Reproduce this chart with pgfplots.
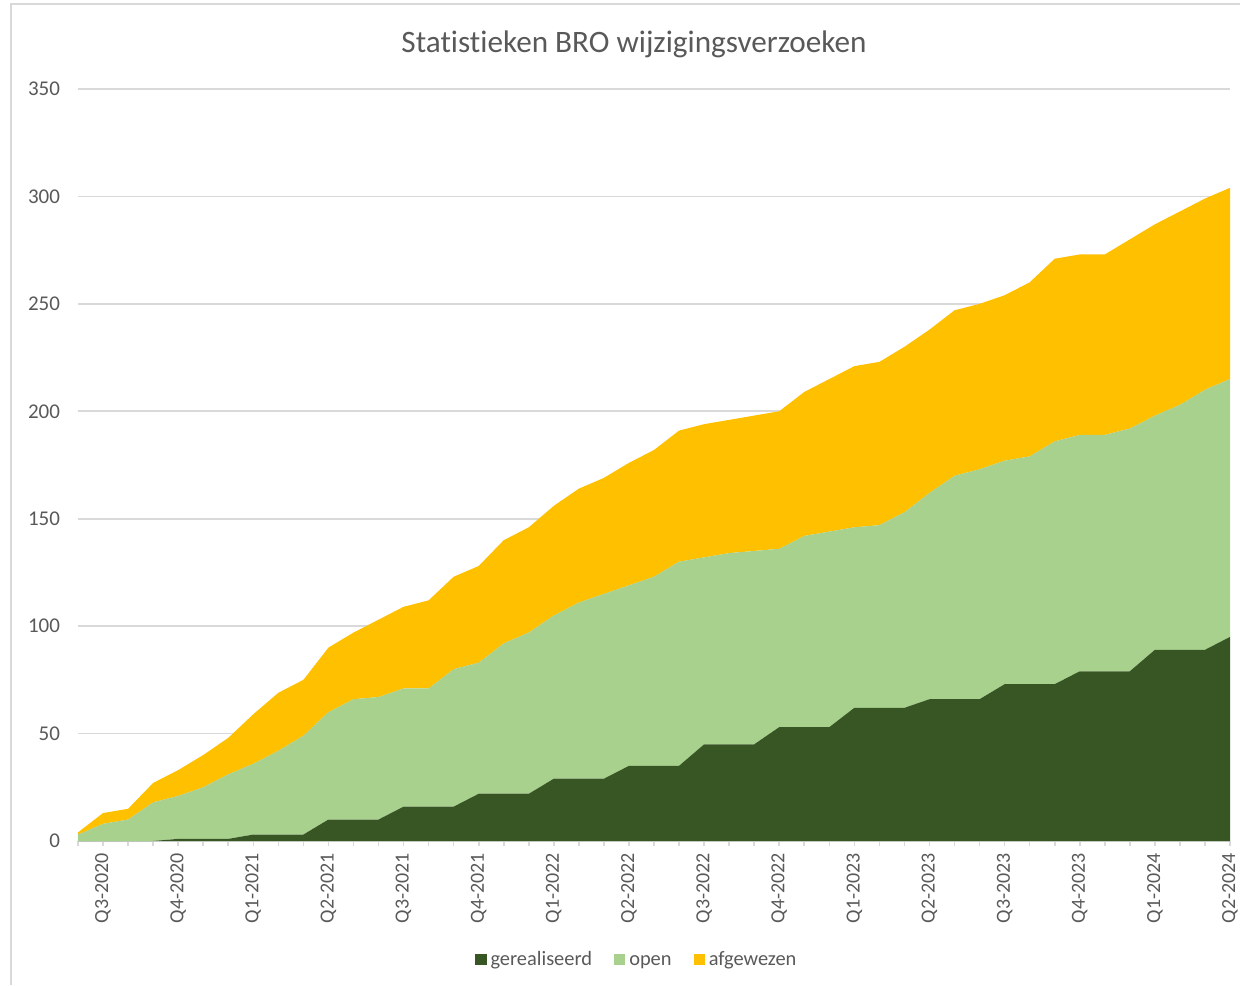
\documentclass[border=0pt]{standalone}
\usepackage{pgfplots}
\pgfplotsset{compat=1.18}
\usepackage{fontspec}
\setmainfont{Carlito}[Ligatures={NoCommon}]
\definecolor{dkg}{HTML}{375623}
\definecolor{ltg}{HTML}{A9D18E}
\definecolor{yel}{HTML}{FFC000}
\definecolor{txt}{HTML}{595959}
\definecolor{grd}{HTML}{D9D9D9}
\begin{document}
\begin{tikzpicture}
\path[use as bounding box] (0pt,0pt) rectangle (620pt,492.5pt);
\draw[grd, line width=1pt] (5.5pt,0pt) -- (5.5pt,490.5pt) -- (620pt,490.5pt);
\node[txt, font=\fontsize{15.6}{18}\selectfont] at (317pt,470.5pt) {Statistieken BRO wijzigingsverzoeken};
\begin{axis}[
  at={(39pt,72pt)}, anchor=south west,
  scale only axis, width=576pt, height=376pt,
  xmin=0, xmax=46, ymin=0, ymax=350,
  stack plots=y,
  axis x line*=bottom, axis y line*=left,
  y axis line style={draw=none},
  x axis line style={grd, line width=1pt},
  ytick={0,50,...,350},
  ytick style={draw=none},
  ymajorgrids, grid style={grd, line width=0.8pt},
  xtick={1,4,...,46},
  minor xtick={0,...,46},
  xticklabels={Q3-2020,Q4-2020,Q1-2021,Q2-2021,Q3-2021,Q4-2021,Q1-2022,Q2-2022,Q3-2022,Q4-2022,Q1-2023,Q2-2023,Q3-2023,Q4-2023,Q1-2024,Q2-2024},
  tick align=outside,
  major tick length=2.5pt, minor tick length=2.5pt,
  xtick style={grd, line width=0.8pt},
  minor x tick style={grd, line width=0.8pt},
  xticklabel style={rotate=90, anchor=east, font=\fontsize{10}{12}\selectfont, text=txt},
  yticklabel style={font=\fontsize{10.5}{12}\selectfont, text=txt, xshift=-3pt},
  /pgf/number format/assume math mode=true,
  legend columns=3,
  legend style={at={(0.486,-0.158)}, anchor=center, draw=none, fill=none,
    font=\fontsize{10.2}{12}\selectfont, text=txt,
    nodes={text height=1.6ex, text depth=0.45ex},
    /tikz/every even column/.append style={column sep=9pt}},
  legend image code/.code={\fill[#1] (0pt,-2.8pt) rectangle (5.6pt,2.8pt);},
]
\addplot[fill=dkg, draw=none] coordinates {
(0,0)(1,0)(2,0)(3,0)(4,1)(5,1)(6,1)(7,3)(8,3)(9,3)(10,10)(11,10)(12,10)(13,16)(14,16)(15,16)
(16,22)(17,22)(18,22)(19,29)(20,29)(21,29)(22,35)(23,35)(24,35)(25,45)(26,45)(27,45)(28,53)(29,53)(30,53)
(31,62)(32,62)(33,62)(34,66)(35,66)(36,66)(37,73)(38,73)(39,73)(40,79)(41,79)(42,79)(43,89)(44,89)(45,89)(46,95)
} \closedcycle;
\addlegendentry{gerealiseerd}
\addplot[fill=ltg, draw=none] coordinates {
(0,3)(1,8)(2,10)(3,18)(4,20)(5,24)(6,30)(7,33)(8,39)(9,46)(10,50)(11,56)(12,57)(13,55)(14,55)(15,64)
(16,61)(17,70)(18,75)(19,76)(20,82)(21,86)(22,84)(23,88)(24,95)(25,87)(26,89)(27,90)(28,83)(29,89)(30,91)
(31,84)(32,85)(33,91)(34,96)(35,104)(36,107)(37,104)(38,106)(39,113)(40,110)(41,110)(42,113)(43,109)(44,114)(45,121)(46,120)
} \closedcycle;
\addlegendentry{open}
\addplot[fill=yel, draw=none] coordinates {
(0,1)(1,5)(2,5)(3,9)(4,12)(5,15)(6,17)(7,23)(8,27)(9,26)(10,30)(11,31)(12,36)(13,38)(14,41)(15,43)
(16,45)(17,48)(18,49)(19,51)(20,53)(21,54)(22,57)(23,59)(24,61)(25,62)(26,62)(27,63)(28,64)(29,67)(30,71)
(31,75)(32,76)(33,77)(34,76)(35,77)(36,77)(37,77)(38,81)(39,85)(40,84)(41,84)(42,88)(43,89)(44,90)(45,89)(46,89)
} \closedcycle;
\addlegendentry{afgewezen}
\end{axis}
\end{tikzpicture}
\end{document}
